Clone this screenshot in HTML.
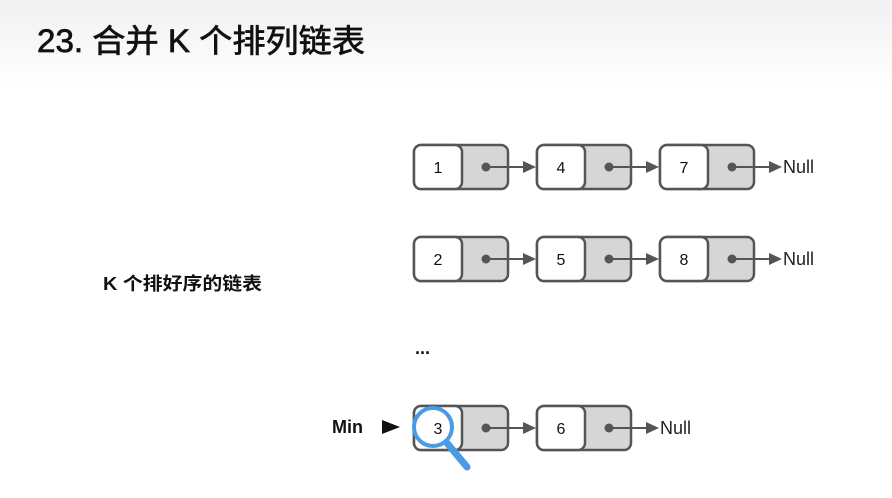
<!DOCTYPE html>
<html><head><meta charset="utf-8"><style>
html,body{margin:0;padding:0;width:892px;height:498px;overflow:hidden;background:#fff;}
.hdr{position:absolute;left:0;top:0;width:892px;height:90px;background:linear-gradient(#f1f1f3,#fff);}
</style></head><body>
<div class="hdr"></div>
<svg width="892" height="498" style="position:absolute;left:0;top:0" font-family="'Liberation Sans','Noto Sans CJK SC',sans-serif">
<defs>
<g id="node">
<rect x="1" y="1" width="94" height="44" rx="7" fill="#d6d6d6" stroke="#555" stroke-width="2.5"/>
<rect x="1" y="1" width="48" height="44" rx="7" fill="#fff" stroke="#555" stroke-width="2.5"/>
<circle cx="73" cy="23" r="4.5" fill="#555"/>
<line x1="73" y1="23" x2="112" y2="23" stroke="#555" stroke-width="2"/>
<polygon points="110,17 123,23 110,29" fill="#555"/>
</g>
</defs>
<text x="37" y="52" font-size="32" fill="#111" stroke="#111" stroke-width="0.7" textLength="328" lengthAdjust="spacingAndGlyphs">23. 合并 K 个排列链表</text>
<text x="103" y="290" font-size="18" font-weight="bold" fill="#111" textLength="159" lengthAdjust="spacingAndGlyphs">K 个排好序的链表</text>
<text x="415" y="354" font-size="18" font-weight="bold" fill="#111">...</text>
<text x="332" y="433" font-size="18" font-weight="bold" fill="#111">Min</text>
<polygon points="382,420 400,427 382,434" fill="#111"/>
<g font-size="16" fill="#111" text-anchor="middle">
<use href="#node" x="413" y="144"/><use href="#node" x="536" y="144"/><use href="#node" x="659" y="144"/>
<text x="438" y="173">1</text><text x="561" y="173">4</text><text x="684" y="173">7</text>
<use href="#node" x="413" y="236"/><use href="#node" x="536" y="236"/><use href="#node" x="659" y="236"/>
<text x="438" y="265">2</text><text x="561" y="265">5</text><text x="684" y="265">8</text>
<use href="#node" x="413" y="405"/><use href="#node" x="536" y="405"/>
</g>
<line x1="447" y1="443" x2="467" y2="467" stroke="#4a9be6" stroke-width="7" stroke-linecap="round"/>
<circle cx="433" cy="427" r="19" fill="#fff" stroke="#4a9be6" stroke-width="4"/>
<g font-size="16" fill="#111" text-anchor="middle">
<text x="438" y="434">3</text><text x="561" y="434">6</text>
</g>
<g font-size="18" fill="#222">
<text x="783" y="173">Null</text><text x="783" y="265">Null</text><text x="660" y="434">Null</text>
</g>
</svg>
</body></html>
